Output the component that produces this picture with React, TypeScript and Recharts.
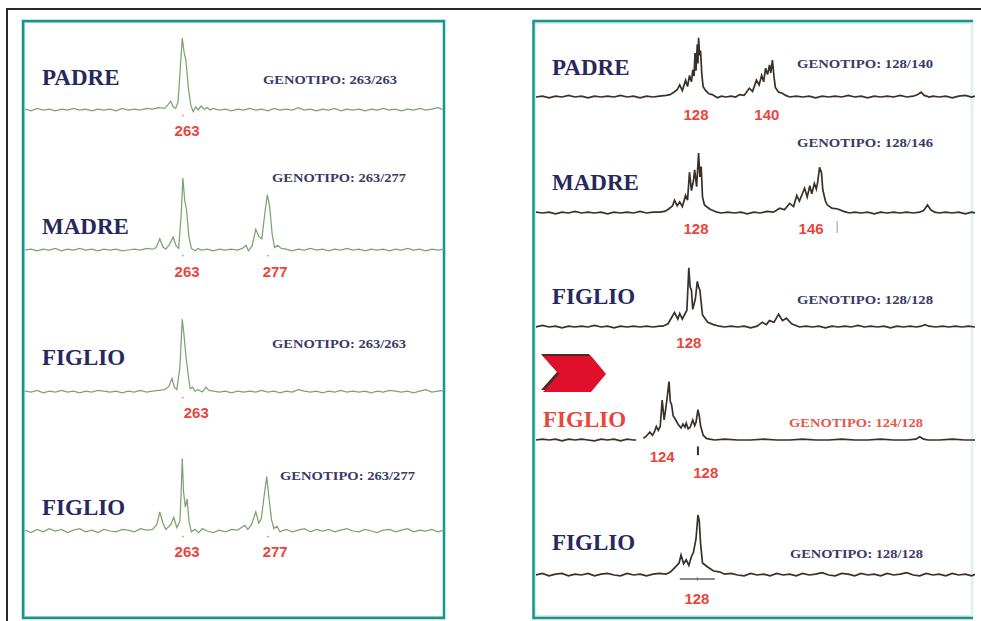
import { LineChart, Line, XAxis, YAxis, ReferenceDot, ReferenceLine } from "recharts";

type Pt = [number, number | null];

// left panel: size in bp, right panel: size in bp
const leftDomain: [number, number] = [237, 306];
const rightDomain: [number, number] = [103, 170.5];

// ---- left panel traces ----
const padreL: Pt[] = [
  [237, 1], [238, -1], [239, 2], [240, 0], [241, 1], [242, -1], [243, 1], [244, 0], [245, 2], [246, 0], [247, 1], [248, -1],
  [249, 1], [250, 0], [251, 1], [252, -1], [253, 2], [254, 0], [255, 1], [256, 0], [257, 2], [258, 1], [259, 3], [260, 2],
  [260.6, 7], [261, 11], [261.4, 4], [261.8, 2], [262.2, 10], [262.6, 55], [262.9, 90], [263.2, 72], [263.5, 62], [263.9, 28],
  [264.3, 6], [264.7, -2], [265.1, 4], [265.5, 0], [266, 5], [266.5, 1], [267, 3], [267.5, 0], [268, 2], [269, 0], [270, 1],
  [271, -1], [272, 1], [273, 0], [274, 2], [275, 0], [276, 1], [277, -1], [278, 2], [279, 0], [280, 1], [281, 0], [282, 3],
  [283, 0], [284, 1], [285, -1], [286, 1], [287, 0], [288, 2], [289, -1], [290, 1], [291, 0], [292, 1], [293, -1], [294, 1],
  [295, 0], [296, 2], [297, 0], [298, 1], [299, -1], [300, 1], [301, 0], [302, 2], [303, 0], [304, 1], [305, 3], [306, 0],
];

const madreL: Pt[] = [
  [237, 0], [238, 1], [239, -1], [240, 1], [241, 0], [242, 2], [243, -1], [244, 1], [245, 0], [246, 2], [247, 0], [248, 1],
  [249, -1], [250, 1], [251, 0], [252, 1], [253, -1], [254, 0], [255, 1], [256, 0], [257, 2], [258, 1], [258.6, 3], [259.2, 14],
  [259.7, 4], [260.2, 1], [260.8, 7], [261.4, 16], [261.9, 5], [262.3, 2], [262.7, 42], [263, 90], [263.3, 62], [263.6, 50],
  [264, 16], [264.4, 2], [265, -1], [265.5, 2], [266, 0], [267, 1], [268, -1], [269, 1], [270, 0], [271, 1], [272, 0],
  [272.8, 2], [273.4, 6], [273.8, -1], [274.4, 5], [275, 26], [275.5, 17], [276, 14], [276.5, 46], [276.9, 69], [277.3, 54],
  [277.7, 20], [278.1, 3], [278.6, 6], [279.2, 2], [280, 1], [281, -1], [282, 1], [283, 0], [284, 2], [285, 0], [286, 1],
  [287, -1], [288, 1], [289, 0], [290, 2], [291, 0], [292, 1], [293, -1], [294, 1], [295, 0], [296, 1], [297, -1], [298, 1],
  [299, 0], [300, 2], [301, 0], [302, 1], [303, -1], [304, 1], [305, 0], [306, 1],
];

const figlioL1: Pt[] = [
  [237, 1], [238, 0], [239, 2], [240, -1], [241, 1], [242, 0], [243, 2], [244, 0], [245, 1], [246, -1], [247, 1], [248, 0],
  [249, 2], [250, 1], [251, 0], [252, 1], [253, -1], [254, 1], [255, 0], [256, 2], [257, 0], [258, 1], [259, 2], [260, 3],
  [260.7, 7], [261.2, 17], [261.6, 6], [262, 3], [262.5, 30], [262.9, 91], [263.2, 70], [263.5, 45], [263.9, 20], [264.2, 4],
  [264.6, 6], [265, 1], [265.5, 3], [266.2, 0], [266.8, 6], [267.3, 2], [268, 1], [269, 0], [270, 1], [271, -1], [272, 1],
  [273, 0], [274, 1], [275, 0], [276, 2], [277, 0], [278, 1], [279, -1], [280, 1], [281, 0], [282, 3], [283, 1], [284, 0],
  [285, 1], [286, -1], [287, 1], [288, 0], [289, 2], [290, 0], [291, 1], [292, 0], [293, 1], [294, -1], [295, 1], [296, 0],
  [297, 2], [298, 1], [299, 0], [300, 1], [301, -1], [302, 1], [303, 3], [304, 0], [305, 1], [306, 2],
];

const figlioL2: Pt[] = [
  [237, 1], [238, -2], [239, 2], [240, -1], [241, 3], [242, 0], [243, 2], [244, -2], [245, 1], [246, 3], [247, -1], [248, 1],
  [249, -2], [250, 2], [251, 0], [252, -1], [253, 2], [254, 1], [255, -1], [256, 3], [257, 1], [258, 2], [258.7, 8], [259.2, 24],
  [259.7, 10], [260.2, 2], [260.6, 5], [261, 8], [261.5, 17], [262, 4], [262.5, 12], [262.7, 45], [262.9, 91], [263.1, 50],
  [263.4, 30], [263.7, 40], [264, 12], [264.4, -1], [265, 2], [265.6, -2], [266.2, 3], [267, 0], [268, -2], [269, 1], [270, -1],
  [271, 2], [272, 1], [272.6, 4], [273.2, 7], [273.7, 2], [274.3, 8], [275, 24], [275.5, 10], [275.9, 15], [276.4, 45],
  [276.8, 68], [277.2, 40], [277.6, 14], [278, 3], [278.5, 6], [279, -1], [280, 2], [281, -1], [282, 1], [283, 3], [284, -1],
  [285, 2], [286, 0], [287, 2], [288, -1], [289, 1], [290, 3], [291, 0], [292, -1], [293, 2], [294, 0], [295, -2], [296, 1],
  [297, 2], [298, -1], [299, 1], [300, 3], [301, -1], [302, 1], [303, 0], [304, 2], [305, -1], [306, 1],
];

// ---- right panel traces ----
const padreR: Pt[] = [
  [103, 0], [104, 1], [105, -1], [106, 1], [107, 0], [108, 2], [109, 0], [110, 1], [111, -1], [112, 1], [113, 0], [114, 1],
  [115, 0], [116, 2], [117, 0], [118, 1], [119, -1], [120, 1], [121, 0], [122, 1], [123, 2], [123.6, 3], [124.2, 6], [124.7, 9],
  [125.1, 15], [125.5, 8], [126, 21], [126.3, 13], [126.6, 27], [126.9, 19], [127.1, 34], [127.3, 26], [127.45, 55], [127.6, 33],
  [127.8, 66], [127.9, 42], [128, 74], [128.15, 52], [128.3, 58], [128.5, 28], [128.7, 13], [129.1, 8], [129.6, 4], [130.1, 3],
  [130.9, -1], [131.5, 1], [132.2, 0], [133, 1], [133.7, 0], [134.3, 3], [135, 2], [135.8, 11], [136.3, 7], [136.9, 21],
  [137.3, 15], [137.7, 27], [138, 19], [138.3, 36], [138.6, 28], [138.9, 40], [139.1, 30], [139.35, 46], [139.6, 25], [139.8, 12],
  [140.3, 6], [140.8, 5], [141.4, 2], [142, 0], [143, 1], [144, 0], [145, 1], [146, -1], [147, 1], [148, 0], [149, 1], [150, 0],
  [151, 2], [152, 0], [153, 1], [154, -1], [155, 1], [156, 0], [157, 1], [158, 0], [159, 2], [160, 0], [161, 1], [161.7, 3],
  [162.2, 6], [162.7, 2], [163.5, 0], [164, 1], [165, 0], [166, 1], [167, -1], [168, 1], [169, 2], [170, 0], [170.5, 1],
];

const madreR: Pt[] = [
  [103, 1], [104, 0], [105, 1], [106, -1], [107, 1], [108, 0], [109, 2], [110, 0], [111, 1], [112, 0], [113, 1], [114, -1],
  [115, 1], [116, 0], [117, 1], [118, 0], [119, 2], [120, 0], [121, 1], [122, 1], [122.8, 2], [123.4, 5], [124, 9], [124.3, 16],
  [124.7, 9], [125.1, 14], [125.5, 8], [126, 22], [126.3, 16], [126.6, 51], [126.9, 28], [127.2, 40], [127.4, 54], [127.7, 33],
  [128, 75], [128.2, 45], [128.4, 58], [128.6, 20], [128.9, 10], [129.7, 5], [130.8, 1], [131.5, 0], [132.5, 1], [133.5, 0],
  [134.5, 1], [135.5, -1], [136.5, 1], [137.5, 0], [138.5, 2], [139.5, 1], [140.5, 6], [141.2, 4], [142, 12], [142.6, 8],
  [143.1, 22], [143.5, 15], [144, 25], [144.3, 31], [144.7, 20], [145.1, 34], [145.4, 24], [145.8, 37], [146.1, 30], [146.3, 38],
  [146.6, 57], [146.9, 50], [147.1, 29], [147.5, 15], [147.8, 10], [148.5, 6], [149.4, 5], [150.3, 2], [151.2, 0], [152, 1],
  [153, 0], [154, 1], [155, -1], [156, 1], [157, 0], [158, 1], [159, 0], [160, 1], [161, 0], [162, 1], [162.6, 3], [163.2, 10],
  [163.7, 4], [164.3, 1], [165, 0], [166, 1], [167, 0], [168, 1], [169, -1], [170, 1], [170.5, 0],
];

const figlioR1: Pt[] = [
  [103, 0], [104, 2], [105, 0], [106, 1], [107, -1], [108, 1], [109, 0], [110, 1], [111, 0], [112, 2], [113, 0], [114, 1],
  [115, -1], [116, 1], [117, 0], [118, 1], [119, 0], [120, 1], [121, 0], [122, 1], [122.5, 1], [123.3, 4], [124.3, 18],
  [124.8, 10], [125.1, 17], [125.5, 10], [126.2, 21], [126.5, 74], [126.7, 50], [126.9, 46], [127.1, 22], [127.5, 35],
  [127.8, 57], [128, 50], [128.2, 46], [128.6, 15], [129.4, 6], [130.3, 3], [131.2, 1], [132, 0], [133, 1], [134, 0], [135, 1],
  [136, -1], [137, 1], [137.8, 6], [138.4, 3], [138.9, 8], [139.6, 6], [140.3, 16], [140.9, 8], [141.5, 11], [142.3, 4],
  [143.5, 0], [144.5, 1], [145.5, 0], [146.5, 1], [147.5, -1], [148.5, 1], [149.5, 0], [150.5, 1], [151.5, 0], [152.5, 2],
  [153.5, 0], [154.5, 1], [155.5, 0], [156.5, 1], [157.5, -1], [158.5, 1], [159.5, 0], [160.5, 1], [161.5, 0], [162.2, 1],
  [162.8, 3], [163.4, 1], [164.5, 0], [165.5, 1], [166.5, 0], [167.5, 1], [168.5, 0], [169.5, 1], [170.5, 0],
];

const figlioR2: Pt[] = [
  [103, 0], [104, 1], [105, 0], [106, 1], [107, -1], [108, 1], [109, 0], [110, 1], [111, 0], [112, -1], [113, 1], [114, 0],
  [115, 1], [116, -1], [117, 1], [118, 0], [118.4, 0], [119, null], [119.5, 2], [120, 5], [120.5, 10], [120.9, 6], [121.2, 10],
  [121.5, 17], [121.8, 12], [122.1, 17], [122.4, 50], [122.7, 25], [122.9, 36], [123.2, 55], [123.45, 73], [123.65, 48],
  [123.85, 44], [124.1, 30], [124.5, 25], [124.9, 19], [125.3, 15], [125.6, 20], [125.9, 16], [126.1, 21], [126.4, 14],
  [126.7, 16], [127.1, 25], [127.4, 18], [127.6, 22], [127.9, 38], [128.1, 30], [128.3, 18], [128.7, 6], [129.2, 2], [129.7, 1],
  [130.5, 0], [132, 1], [134, 0], [136, 0], [138, 1], [140, 0], [142, 0], [144, 1], [146, 0], [148, 0], [150, 1], [152, 0],
  [154, 0], [156, 1], [158, 0], [160, 0], [161.4, 1], [162, 4], [162.6, 1], [163.3, 0], [165, 0], [167, 1], [169, 0], [170.5, 0],
];

const figlioR3: Pt[] = [
  [103, 0], [104, 2], [105, -1], [106, 1], [107, 2], [108, -1], [109, 1], [110, 0], [111, 2], [112, -1], [113, 1], [114, 2],
  [115, 0], [116, -1], [117, 2], [118, 0], [119, 1], [120, -1], [121, 1], [122, 2], [123, 1], [123.7, 4], [124.3, 9], [125, 15],
  [125.3, 25], [125.7, 14], [126.1, 19], [126.5, 12], [126.9, 23], [127.2, 28], [127.6, 45], [127.9, 75], [128.1, 68],
  [128.3, 40], [128.6, 15], [129.4, 10], [130.3, 5], [131.2, 4], [132, 1], [133, 2], [134, 0], [135, -1], [136, 2], [137, 0],
  [138, 1], [139, -1], [140, 2], [141, 0], [142, 1], [143, -1], [144, 2], [145, 0], [146, 1], [147, 3], [148, 0], [149, -1],
  [150, 2], [151, 1], [152, -1], [153, 2], [154, 0], [155, 1], [156, -1], [157, 2], [158, 0], [159, 1], [160, 3], [161, 0],
  [162, -1], [163, 2], [164, 0], [165, 1], [166, -1], [167, 2], [168, 0], [169, 1], [170, -1], [170.5, 1],
];

// peak size labels (bp position, label height in trace units)
type Peak = { text: string; x: number; y: number };
const padreLPeaks: Peak[] = [{ text: "263", x: 263.7, y: -26 }];
const madreLPeaks: Peak[] = [{ text: "263", x: 263.7, y: -27 }, { text: "277", x: 278.2, y: -27 }];
const figlioL1Peaks: Peak[] = [{ text: "263", x: 265.2, y: -26 }];
const figlioL2Peaks: Peak[] = [{ text: "263", x: 263.7, y: -26 }, { text: "277", x: 278.2, y: -26 }];
const padreRPeaks: Peak[] = [{ text: "128", x: 127.6, y: -22 }, { text: "140", x: 138.5, y: -22 }];
const madreRPeaks: Peak[] = [{ text: "128", x: 127.6, y: -19 }, { text: "146", x: 145.3, y: -19 }];
const figlioR1Peaks: Peak[] = [{ text: "128", x: 126.5, y: -19 }];
const figlioR2Peaks: Peak[] = [{ text: "124", x: 122.4, y: -21 }, { text: "128", x: 129.1, y: -41 }];
const figlioR3Peaks: Peak[] = [{ text: "128", x: 127.75, y: -29 }];

type Mark = { x1: number; x2: number; y1: number; y2: number; color: string; w: number };
const dotsL = (xs: number[]): Mark[] => xs.map((x) => ({ x1: x - 0.2, x2: x + 0.2, y1: -7, y2: -7, color: "#b9b9b9", w: 1.5 }));

const green = "#7ba46c";
const brown = "#3a302a";
const navy = "#27285c";
const red = "#e8463c";

const toRows = (pts: Pt[]) => pts.map(([x, y]) => ({ x, y }));

type TraceProps = {
  data: Pt[];
  left: number;
  width: number;
  baseline: number;
  domain: [number, number];
  color: string;
  sw: number;
  peaks: Peak[];
  marks?: Mark[];
};

const Trace = ({ data, left, width, baseline, domain, color, sw, peaks, marks = [] }: TraceProps) => (
  <div style={{ position: "absolute", left, top: baseline - 80 }}>
    <LineChart width={width} height={120} data={toRows(data)} margin={{ top: 0, right: 0, bottom: 0, left: 0 }}>
      <XAxis type="number" dataKey="x" domain={domain} hide allowDataOverflow />
      <YAxis type="number" domain={[-50, 100]} hide allowDataOverflow />
      <Line
        dataKey="y"
        type="linear"
        stroke={color}
        strokeWidth={sw}
        dot={false}
        connectNulls={false}
        isAnimationActive={false}
      />
      {marks.map((m, i) => (
        <ReferenceLine
          key={"m" + i}
          segment={[{ x: m.x1, y: m.y1 }, { x: m.x2, y: m.y2 }]}
          stroke={m.color}
          strokeWidth={m.w}
        />
      ))}
      {peaks.map((p) => (
        <ReferenceDot
          key={p.text + p.x}
          x={p.x}
          y={p.y}
          r={0}
          fill="none"
          stroke="none"
          label={{
            value: p.text,
            position: "center",
            fill: red,
            fontSize: 15,
            fontWeight: 700,
            fontFamily: "'Liberation Sans', Arial, sans-serif",
          }}
        />
      ))}
    </LineChart>
  </div>
);

const names = [
  { t: "PADRE", x: 42, y: 85, c: navy },
  { t: "MADRE", x: 42, y: 234, c: navy },
  { t: "FIGLIO", x: 42, y: 365, c: navy },
  { t: "FIGLIO", x: 42, y: 515, c: navy },
  { t: "PADRE", x: 552, y: 75, c: navy },
  { t: "MADRE", x: 552, y: 190, c: navy },
  { t: "FIGLIO", x: 552, y: 304, c: navy },
  { t: "FIGLIO", x: 543, y: 427, c: red },
  { t: "FIGLIO", x: 552, y: 550, c: navy },
];

const genotypes = [
  { t: "GENOTIPO: 263/263", x: 263, y: 84, w: 134, c: "#3a3a68" },
  { t: "GENOTIPO: 263/277", x: 272, y: 182, w: 134, c: "#3a3a68" },
  { t: "GENOTIPO: 263/263", x: 272, y: 348, w: 134, c: "#3a3a68" },
  { t: "GENOTIPO: 263/277", x: 280, y: 480, w: 135, c: "#3a3a68" },
  { t: "GENOTIPO: 128/140", x: 797, y: 68, w: 136, c: "#3a3a68" },
  { t: "GENOTIPO: 128/146", x: 797, y: 147, w: 136, c: "#3a3a68" },
  { t: "GENOTIPO: 128/128", x: 797, y: 304, w: 136, c: "#3a3a68" },
  { t: "GENOTIPO: 124/128", x: 789, y: 427, w: 134, c: "#e8584c" },
  { t: "GENOTIPO: 128/128", x: 790, y: 558, w: 133, c: "#3a3a68" },
];

const App = () => {
  const L = { left: 25, width: 419, domain: leftDomain, color: green, sw: 1.25 };
  const R = { left: 536, width: 439, domain: rightDomain, color: brown, sw: 1.7 };
  return (
    <div style={{ position: "absolute", left: 0, top: 0, width: 981, height: 621, background: "#fff", overflow: "hidden" }}>
      <svg width={981} height={621} style={{ position: "absolute", left: 0, top: 0 }}>
        <path d="M7,621 V9 H981" fill="none" stroke="#2a2a2a" strokeWidth={2} />
        {/* left panel */}
        <rect x={24.5} y={22.5} width={419} height={594} fill="none" stroke="#a9dbd7" strokeWidth={1} />
        <rect x={23} y={21} width={421} height={597} fill="none" stroke="#15958f" strokeWidth={2.5} />
        {/* right panel */}
        <rect x={535} y={23} width={437} height={593} fill="none" stroke="#a9dbd7" strokeWidth={1} />
        <line x1={972} y1={22} x2={972} y2={617} stroke="#e3f1f1" strokeWidth={3} />
        <path d="M973,21 H533.5 V618 H973" fill="none" stroke="#15958f" strokeWidth={2.5} />
        {/* arrow */}
        <polygon points="541,354 589,354 604,372 589,390 541,390 557,372" fill="#4a2a22" />
        <polygon points="543,356 591,356 606,374 591,392 543,392 559,374" fill="#e0102c" />
        {names.map((n, i) => (
          <text
            key={"n" + i}
            x={n.x}
            y={n.y}
            fill={n.c}
            fontSize={23}
            fontWeight={700}
            fontFamily="'Liberation Serif', 'Times New Roman', serif"
          >
            {n.t}
          </text>
        ))}
        {genotypes.map((g, i) => (
          <text
            key={"g" + i}
            x={g.x}
            y={g.y}
            fill={g.c}
            fontSize={12}
            fontWeight={700}
            textLength={g.w}
            lengthAdjust="spacingAndGlyphs"
            fontFamily="'Liberation Serif', 'Times New Roman', serif"
          >
            {g.t}
          </text>
        ))}
      </svg>

      <Trace {...L} data={padreL} baseline={110} peaks={padreLPeaks} marks={dotsL([263])} />
      <Trace {...L} data={madreL} baseline={250} peaks={madreLPeaks} marks={dotsL([263, 277])} />
      <Trace {...L} data={figlioL1} baseline={392} peaks={figlioL1Peaks} marks={dotsL([263])} />
      <Trace {...L} data={figlioL2} baseline={531} peaks={figlioL2Peaks} marks={dotsL([263, 277])} />

      <Trace {...R} data={padreR} baseline={97} peaks={padreRPeaks} />
      <Trace
        {...R}
        data={madreR}
        baseline={213}
        peaks={madreRPeaks}
        marks={[{ x1: 149.3, x2: 149.3, y1: -10, y2: -25, color: "#9a9a9a", w: 1 }]}
      />
      <Trace {...R} data={figlioR1} baseline={327} peaks={figlioR1Peaks} />
      <Trace
        {...R}
        data={figlioR2}
        baseline={440}
        peaks={figlioR2Peaks}
        marks={[{ x1: 127.9, x2: 127.9, y1: -8, y2: -19, color: "#3a302a", w: 2 }]}
      />
      <Trace
        {...R}
        data={figlioR3}
        baseline={575}
        peaks={figlioR3Peaks}
        marks={[
          { x1: 125.1, x2: 130.5, y1: -5, y2: -5, color: "#6a625c", w: 1.5 },
          { x1: 127.8, x2: 127.8, y1: -3, y2: -7, color: "#6a625c", w: 1 },
        ]}
      />
    </div>
  );
};

export default App;
